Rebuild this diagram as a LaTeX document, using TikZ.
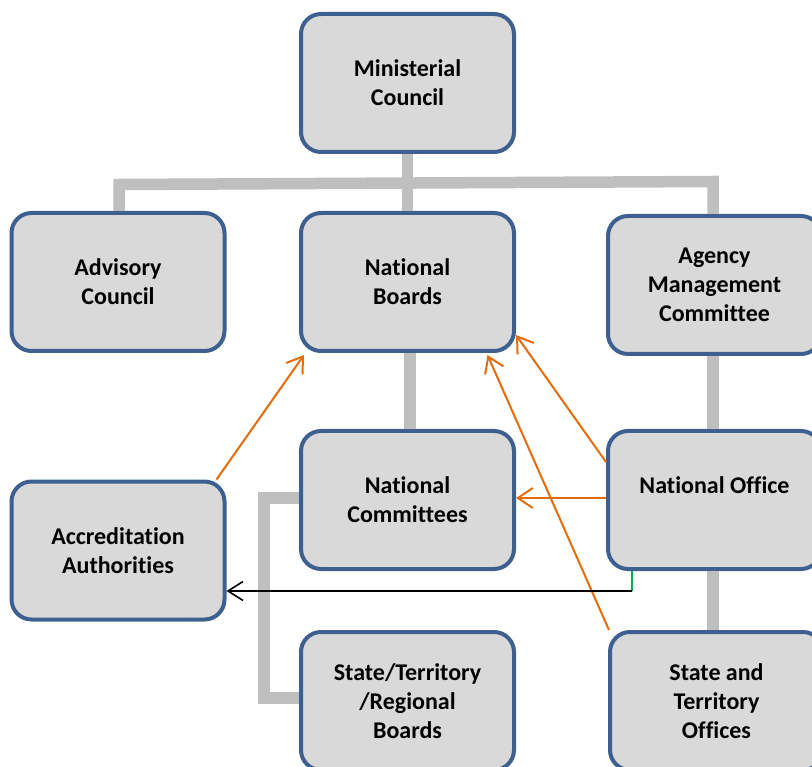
\documentclass[tikz,border=0pt]{standalone}
\usepackage{fontspec}
\setmainfont[Ligatures={NoCommon}]{Carlito}
\usetikzlibrary{arrows.meta}
\definecolor{boxfill}{HTML}{D9D9D9}
\definecolor{boxline}{RGB}{61,96,145}
\definecolor{linkgray}{HTML}{BFBFBF}
\definecolor{orangeln}{HTML}{E46C0A}
\definecolor{greenln}{HTML}{00B050}
\begin{document}
\begin{tikzpicture}[x=1pt,y=-1pt,
  orgbox/.style={draw=boxline, line width=4pt, fill=boxfill, rounded corners=20pt,
    minimum width=213pt, minimum height=138pt, align=center, inner sep=0pt,
    font=\fontsize{24}{29}\selectfont\bfseries},
  graylink/.style={draw=linkgray, line width=11.5pt, line join=miter},
  orangearrow/.style={draw=orangeln, line width=2pt, -{Straight Barb[length=15pt,width=20pt,line width=2pt]}},
  blackarrow/.style={draw=black, line width=1.6pt, -{Straight Barb[length=15pt,width=19pt,line width=1.6pt]}},
  greenlink/.style={draw=greenln, line width=1.6pt}]
\useasboundingbox (0,0) rectangle (812,767);
% boxes
\node[orgbox] (mc) at (407.5,83) {Ministerial\\Council};
\node[orgbox] (ac) at (118,282) {Advisory\\Council};
\node[orgbox] (nb) at (407.5,282) {National\\Boards};
\node[orgbox] (amc) at (714.5,285) {Agency\\Management\\Committee};
\node[orgbox] (nc) at (407.5,500) {National\\Committees};
\node[orgbox] (no) at (714.5,500) {National Office\\\mbox{}};
\node[orgbox] (aa) at (118,550.5) {Accreditation\\Authorities};
\node[orgbox] (sb) at (407.5,701) {State/Territory\\/Regional\\Boards};
\node[orgbox] (so) at (716.5,701) {State and\\Territory\\Offices};
% gray hierarchy links
\coordinate (barL) at (119,184.5);
\coordinate (barR) at (713,181.5);
\draw[graylink] (barL |- ac.north) -- (barL) -- (barR) -- (barR |- amc.north);
\draw[graylink] (mc.south) -- (nb.north);
\draw[graylink] ([xshift=2.5pt]nb.south) -- ([xshift=2.5pt]nc.north);
\draw[graylink] ([xshift=-1.5pt]amc.south) -- ([xshift=-1.5pt]no.north);
\draw[graylink] ([xshift=-1.5pt]no.south) -- ([xshift=-1.5pt]no.south |- so.north);
\coordinate (brk) at (264,600);
\draw[graylink] ([yshift=2pt]nc.west) -| (brk) |- ([yshift=3pt]sb.west);
% orange arrows
\draw[orangearrow] ([xshift=-10pt]aa.north east) -- ([xshift=5pt,yshift=-2pt]nb.south west);
\draw[orangearrow] ([yshift=38pt]no.west) -- ([yshift=18pt]nb.south east);
\draw[orangearrow] ([xshift=1pt]so.north west) -- ([xshift=80pt,yshift=-2pt]nb.south);
\draw[orangearrow] ([yshift=2pt]no.west) -- ([yshift=2pt]nc.east);
% black arrow with green stub
\coordinate (turn) at ([xshift=26pt,yshift=-20pt]no.south west);
\draw[greenlink] ([xshift=26pt]no.south west) -- (turn);
\draw[blackarrow] (turn) -- (aa.east |- turn);
\end{tikzpicture}
\end{document}
